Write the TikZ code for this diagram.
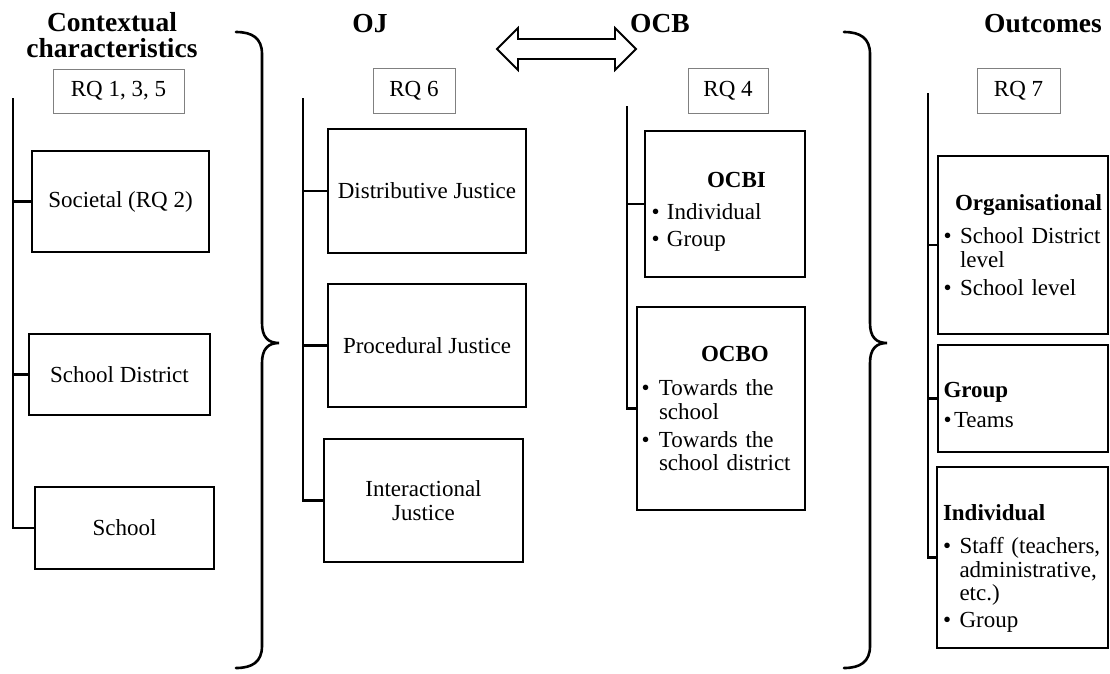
\documentclass[tikz,border=0pt]{standalone}
\usepackage{fontspec}
\setmainfont{Liberation Serif}
\newcommand\diagbody{\fontsize{23}{23.5}\selectfont\hyphenpenalty=10000\exhyphenpenalty=10000}
\newcommand\diagtitle{\fontsize{27.5}{26}\selectfont\bfseries}
% bullet item and its continuation line
\newcommand\lbul[2][16.5pt]{\makebox[#1][l]{\textbullet}#2}
\newcommand\lcont[2][16.5pt]{\hspace*{#1}#2}
% invisible strut that pushes a list block downwards
\newcommand\lift[1]{\rule{0pt}{#1}}
\begin{document}
\begin{tikzpicture}[x=1pt,y=-1pt,
  box/.style={draw=black, line width=2.3pt, inner sep=0pt, font=\diagbody, align=center},
  listbox/.style={draw=black, line width=2.3pt, font=\diagbody, align=left, inner ysep=0pt},
  rqbox/.style={draw=black!50, line width=1pt, inner sep=0pt, font=\diagbody, minimum height=45pt},
  title/.style={font=\diagtitle, align=center, inner sep=0pt},
  tree/.style={line width=2.2pt},
  brace/.style={line width=2.6pt, line cap=round},
  twoway/.style={line width=1.8pt, line join=miter}
]
\useasboundingbox (0,0) rectangle (1110,673);

% ---------- column titles ----------
\node[title] (ctx-title) at (112,35.5) {Contextual\\characteristics};
\node[title, anchor=base] (oj-title) at (370,32) {OJ};
\node[title, anchor=base] (ocb-title) at (660,32) {OCB};
\node[title, anchor=base] (out-title) at (1043,32) {Outcomes};

% ---------- research question tags ----------
\node[rqbox, minimum width=131pt, minimum height=44pt] (rq135) at (118.5,91) {RQ 1, 3, 5};
\node[rqbox, minimum width=82pt] (rq6) at (414,90.5) {RQ 6};
\node[rqbox, minimum width=80pt] (rq4) at (728,90.5) {RQ 4};
\node[rqbox, minimum width=83pt] (rq7) at (1018.5,90.5) {RQ 7};

% ---------- contextual characteristics ----------
\node[box, minimum width=177pt, minimum height=101pt] (soc) at (120.5,201.5) {Societal (RQ 2)};
\node[box, minimum width=181pt, minimum height=81pt] (sd) at (119.5,374.5) {School District};
\node[box, minimum width=179pt, minimum height=82pt] (sch) at (124.5,528) {School};

\coordinate (ctx-top) at (13,98);
\draw[tree] (ctx-top) |- (sch.west);
\draw[tree] (ctx-top |- soc.west) -- (soc.west);
\draw[tree] (ctx-top |- sd.west) -- (sd.west);

% ---------- organisational justice ----------
\node[box, minimum width=198pt, minimum height=124pt] (dj) at (427,191) {Distributive Justice};
\node[box, minimum width=198pt, minimum height=123pt] (pj) at (427,345.5) {Procedural Justice};
\node[box, minimum width=199pt, minimum height=123pt] (ij) at (423.5,500.5) {Interactional\\Justice};

\coordinate (oj-top) at (303,98);
\draw[tree] (oj-top) |- (ij.west);
\draw[tree] (oj-top |- dj.west) -- (dj.west);
\draw[tree] (oj-top |- pj.west) -- (pj.west);

% ---------- organisational citizenship behaviour ----------
\node[listbox, inner xsep=6.5pt, text width=147pt, minimum width=160pt, minimum height=146pt] (ocbi) at (725,204)
  {\lift{30pt}\hspace*{55.5pt}\textbf{OCBI}\\[8.5pt]
   \lbul[15.5pt]{Individual}\\[3.5pt]
   \lbul[15.5pt]{Group}};
\node[listbox, inner xsep=4.5pt, text width=159pt, minimum width=168pt, minimum height=203pt] (ocbo) at (721,408.5)
  {\hspace*{59.5pt}\textbf{OCBO}\\[10.5pt]
   \lbul[17.5pt]{Towards the}\\
   \lcont[17.5pt]{school}\\[4.5pt]
   \lbul[17.5pt]{Towards the}\\
   \lcont[17.5pt]{school district}};

\coordinate (ocb-top) at (627,106);
\draw[tree] (ocb-top) |- (ocbo.west);
\draw[tree] (ocb-top |- ocbi.west) -- (ocbi.west);

% ---------- outcomes ----------
\node[listbox, inner xsep=5.5pt, text width=159pt, minimum width=170pt, minimum height=178pt] (org) at (1023,245)
  {\hspace*{11.5pt}\textbf{Organisational}\\[9.5pt]
   \lbul{School District}\\
   \lcont{level}\\[4.5pt]
   \lbul{School level}};
\node[listbox, inner xsep=5.5pt, text width=159pt, minimum width=170pt, minimum height=107pt] (grp) at (1023,398.5)
  {\lift{28pt}\textbf{Group}\\[6.5pt]
   \lbul[10.5pt]{Teams}};
\node[listbox, inner xsep=6pt, text width=159pt, minimum width=171pt, minimum height=181pt] (ind) at (1022.5,557.5)
  {\lift{38pt}\textbf{Individual}\\[10pt]
   \lbul{Staff (teachers,}\\
   \lcont{administrative,}\\
   \lcont{etc.)}\\[3.5pt]
   \lbul{Group}};

\coordinate (out-top) at (928,93);
\draw[tree] (out-top) |- (ind.west);
\draw[tree] (out-top |- org.west) -- (org.west);
\draw[tree] (out-top |- grp.west) -- (grp.west);

% ---------- braces ----------
\draw[brace] (236,32) .. controls (252,32) and (262,38) .. (262,54) -- (262,323)
  .. controls (262,337) and (268,343) .. (279,343)
  .. controls (268,343) and (262,349) .. (262,363) -- (262,646)
  .. controls (262,662) and (252,668) .. (236,668);
\draw[brace] (844,32) .. controls (860,32) and (870,38) .. (870,54) -- (870,323)
  .. controls (870,337) and (876,343) .. (887,343)
  .. controls (876,343) and (870,349) .. (870,363) -- (870,646)
  .. controls (870,662) and (860,668) .. (844,668);

% ---------- two-way arrow between OJ and OCB ----------
\draw[twoway] (497,49) -- (518,28) -- (518,39) -- (615,39) -- (615,28) -- (636,49)
  -- (615,70) -- (615,59) -- (518,59) -- (518,70) -- cycle;
\end{tikzpicture}
\end{document}
